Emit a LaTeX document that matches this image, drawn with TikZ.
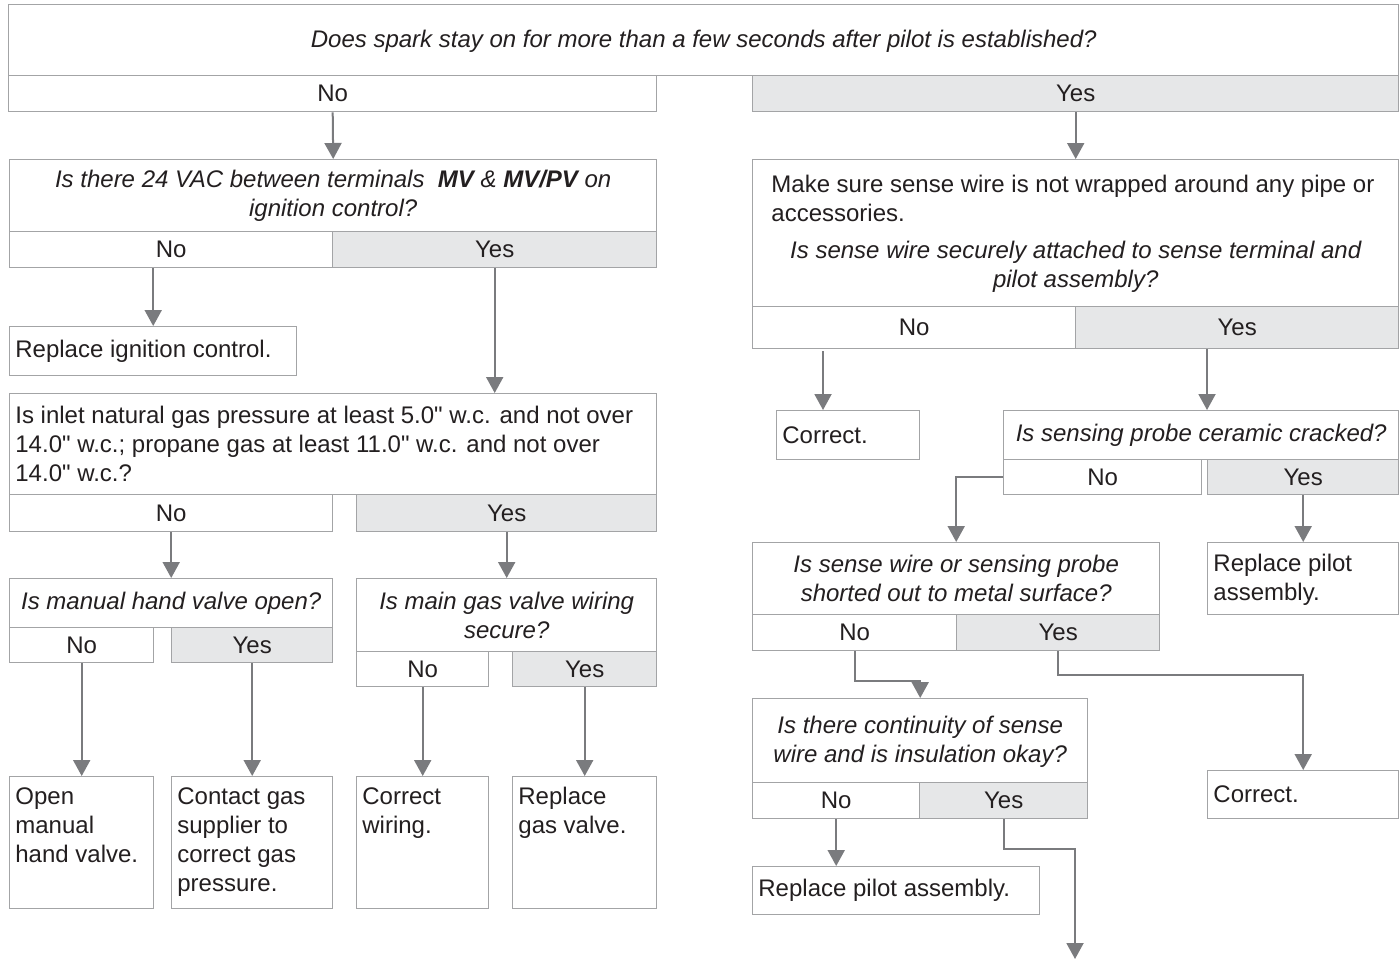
\documentclass[tikz,border=0pt]{standalone}
\usepackage{fontspec}
\setmainfont{Liberation Sans}
\usetikzlibrary{calc,arrows.meta}
\definecolor{boxc}{HTML}{A3A4A6}
\definecolor{yesc}{HTML}{E6E7E8}
\definecolor{arrc}{HTML}{7A7B7E}
\definecolor{txtc}{HTML}{231F20}
\newcommand{\mybox}[6]{\node[#6, minimum width={(#4-#2)*0.5pt}, minimum height={(#5-#3)*0.5pt}] (#1) at (#2,#3) {};}
\newcommand{\inch}{\XeTeXglyph\XeTeXcharglyph"22\relax}
\tikzset{
  bx/.style={draw=boxc, line width=0.7pt, inner sep=0pt, anchor=north west, fill=white},
  yesbox/.style={bx, fill=yesc},
  tx/.style={inner sep=0pt, text=txtc, font=\fontsize{12}{14.5}\selectfont},
  qt/.style={tx, align=center, font=\fontsize{12}{14.5}\selectfont\itshape},
  lt/.style={tx, align=left},
  arr/.style={draw=arrc, line width=1pt, -{Triangle[width=8.5pt,length=8pt]}},
}
\begin{document}
\begin{tikzpicture}[x=0.5pt, y=-0.5pt]
\useasboundingbox (0,0) rectangle (1400,959);
% top
\mybox{top}{8}{4}{1398}{75}{bx}
\node[qt] at ($(top.center)+(0,1)$) {Does spark stay on for more than a few seconds after pilot is established?};
\mybox{tno}{8}{75}{656}{111}{bx}
\node[tx] at (tno.center) {No};
\mybox{tyes}{752}{75}{1398}{111}{yesbox}
\node[tx] at (tyes.center) {Yes};
% left branch
\mybox{qvac}{9}{159}{656}{231}{bx}
\node[qt] at (qvac.center) {Is there 24 VAC between terminals \ \textbf{MV} \& \textbf{MV/PV} on\\ignition control?};
\mybox{vno}{9}{231}{332}{267}{bx}
\node[tx] at (vno.center) {No};
\mybox{vyes}{332}{231}{656}{267}{yesbox}
\node[tx] at (vyes.center) {Yes};
\mybox{ric}{9}{326}{296}{375}{bx}
\node[lt, anchor=west] at ($(ric.west)+(6,0)$) {Replace ignition control.};
\mybox{gas}{9}{393}{656}{494}{bx}
\node[lt, anchor=north west] at ($(gas.north west)+(6,13)$) {Is inlet natural gas pressure at least 5.0\inch{} w.c. and not over\\14.0\inch{} w.c.; propane gas at least 11.0\inch{} w.c. and not over\\14.0\inch{} w.c.?};
\mybox{gno}{9}{494}{332}{531}{bx}
\node[tx] at (gno.center) {No};
\mybox{gyes}{356}{494}{656}{531}{yesbox}
\node[tx] at (gyes.center) {Yes};
\mybox{mhv}{9}{578}{332}{627}{bx}
\node[qt] at (mhv.center) {Is manual hand valve open?};
\mybox{mno}{9}{627}{153}{662}{bx}
\node[tx] at (mno.center) {No};
\mybox{myes}{171}{627}{332}{662}{yesbox}
\node[tx] at (myes.center) {Yes};
\mybox{mgv}{356}{578}{656}{651}{bx}
\node[qt] at (mgv.center) {Is main gas valve wiring\\secure?};
\mybox{wno}{356}{651}{488}{686}{bx}
\node[tx] at (wno.center) {No};
\mybox{wyes}{512}{651}{656}{686}{yesbox}
\node[tx] at (wyes.center) {Yes};
\mybox{omv}{9}{776}{153}{908}{bx}
\node[lt, anchor=north west] at ($(omv.north west)+(6,11)$) {Open\\manual\\hand valve.};
\mybox{cgs}{171}{776}{332}{908}{bx}
\node[lt, anchor=north west] at ($(cgs.north west)+(6,11)$) {Contact gas\\supplier to\\correct gas\\pressure.};
\mybox{cw}{356}{776}{488}{908}{bx}
\node[lt, anchor=north west] at ($(cw.north west)+(6,11)$) {Correct\\wiring.};
\mybox{rgv}{512}{776}{656}{908}{bx}
\node[lt, anchor=north west] at ($(rgv.north west)+(6,11)$) {Replace\\gas valve.};
% right branch
\mybox{sw}{752}{159}{1398}{306}{bx}
\node[lt, anchor=north west] at ($(sw.north west)+(19,16)$) {Make sure sense wire is not wrapped around any pipe or\\accessories.};
\node[qt] at ($(sw.center)+(0,34)$) {Is sense wire securely attached to sense terminal and\\pilot assembly?};
\mybox{sno}{752}{306}{1075}{348}{bx}
\node[tx] at (sno.center) {No};
\mybox{syes}{1075}{306}{1398}{348}{yesbox}
\node[tx] at (syes.center) {Yes};
\mybox{cor1}{776}{410}{919}{459}{bx}
\node[lt, anchor=west] at ($(cor1.west)+(6,0)$) {Correct.};
\mybox{spc}{1003}{410}{1398}{459}{bx}
\node[qt] at (spc.center) {Is sensing probe ceramic cracked?};
\mybox{pno}{1003}{459}{1201}{494}{bx}
\node[tx] at (pno.center) {No};
\mybox{pyes}{1207}{459}{1398}{494}{yesbox}
\node[tx] at (pyes.center) {Yes};
\mybox{shr}{752}{542}{1159}{614}{bx}
\node[qt] at (shr.center) {Is sense wire or sensing probe\\shorted out to metal surface?};
\mybox{hno}{752}{614}{956}{650}{bx}
\node[tx] at (hno.center) {No};
\mybox{hyes}{956}{614}{1159}{650}{yesbox}
\node[tx] at (hyes.center) {Yes};
\mybox{rpa1}{1207}{542}{1398}{614}{bx}
\node[lt, anchor=west] at ($(rpa1.west)+(6,1)$) {Replace pilot\\assembly.};
\mybox{cont}{752}{698}{1087}{782}{bx}
\node[qt] at ($(cont.center)+(0,1)$) {Is there continuity of sense\\wire and is insulation okay?};
\mybox{cno}{752}{782}{919}{818}{bx}
\node[tx] at (cno.center) {No};
\mybox{cyes}{919}{782}{1087}{818}{yesbox}
\node[tx] at (cyes.center) {Yes};
\mybox{cor2}{1207}{770}{1398}{818}{bx}
\node[lt, anchor=west] at ($(cor2.west)+(6,0)$) {Correct.};
\mybox{rpa2}{752}{866}{1039}{914}{bx}
\node[lt, anchor=west] at ($(rpa2.west)+(6,0)$) {Replace pilot assembly.};
\coordinate (offpage) at (1075,959);
% connectors
\draw[arr] (tno.south) -- (qvac.north);
\draw[arr] (vno.south -| ric.north) -- (ric.north);
\draw[arr] (vyes.south) -- (vyes.south |- gas.north);
\draw[arr] (gno.south) -- (mhv.north);
\draw[arr] (gyes.south) -- (mgv.north);
\draw[arr] (mno.south) -- (omv.north);
\draw[arr] (myes.south) -- (cgs.north);
\draw[arr] (wno.south) -- (cw.north);
\draw[arr] (wyes.south) -- (rgv.north);
\draw[arr] (tyes.south) -- (sw.north);
\draw[arr] ($(sno.south west)+(71,2)$) -- ($(cor1.north west)+(47,0)$);
\draw[arr] ($(syes.south west)+(132,0)$) -- ($(spc.north west)+(204,0)$);
\draw[arr] (pno.west) -| (shr.north);
\draw[arr] (pyes.south) -- (rpa1.north);
\draw[arr] (hno.south) -- ++(0,30) -| (cont.north);
\draw[arr] (hyes.south) -- ++(0,24) -| (cor2.north);
\draw[arr] (cno.south) -- (cno.south |- rpa2.north);
\draw[arr] (cyes.south) -- ++(0,30) -| (offpage);
\end{tikzpicture}
\end{document}
